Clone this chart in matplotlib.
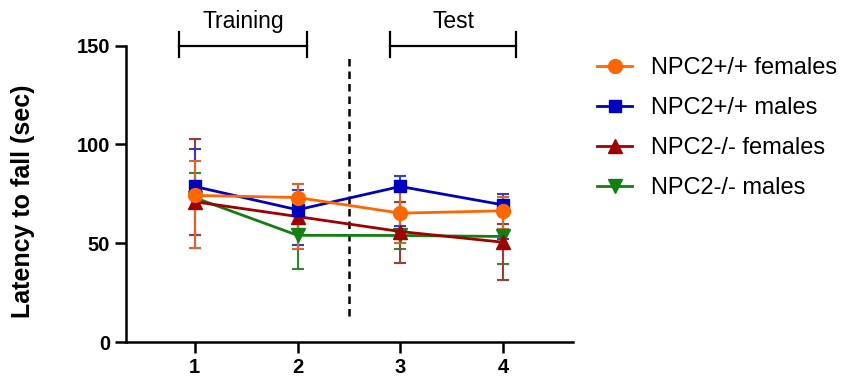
import numpy as np
import matplotlib
matplotlib.use("Agg")
import matplotlib.pyplot as plt

plt.rcParams['font.family'] = ['Liberation Sans', 'DejaVu Sans']

days = [1, 2, 3, 4]
labels = ['NPC2+/+ females', 'NPC2+/+ males', 'NPC2-/- females', 'NPC2-/- males']

# mean, lower and upper end of error bar
wt_f = [74.2, 73.1, 65.2, 66.4]
wt_f_lo = [47.5, 47.0, 50.3, 57.1]
wt_f_hi = [91.4, 80.0, 78.7, 73.2]

wt_m = [78.7, 66.9, 78.7, 69.4]
wt_m_lo = [47.5, 49.0, 58.8, 52.2]
wt_m_hi = [97.8, 76.7, 83.8, 74.9]

ko_f = [71.0, 63.5, 55.9, 50.5]
ko_f_lo = [54.2, 47.0, 39.9, 31.4]
ko_f_hi = [102.7, 80.0, 71.0, 59.6]

ko_m = [73.0, 54.0, 53.9, 53.4]
ko_m_lo = [54.2, 36.8, 47.3, 39.4]
ko_m_hi = [85.3, 70.0, 70.8, 67.0]

series = [
    (wt_f, wt_f_lo, wt_f_hi, '#FF6600', '#D8682A', 'o', 10),
    (wt_m, wt_m_lo, wt_m_hi, '#0000C0', '#3A3AC8', 's', 9),
    (ko_f, ko_f_lo, ko_f_hi, '#A00000', '#A33A3A', '^', 9.5),
    (ko_m, ko_m_lo, ko_m_hi, '#118011', '#2E8B2E', 'v', 9.5),
]

fig = plt.figure(figsize=(8.45, 3.8), dpi=100)
ax = fig.add_axes([0.149, 0.10, 0.529, 0.78])

handles = []
# draw in reverse so the first group ends up on top
for i, (m, lo, hi, col, ecol, mk, ms) in reversed(list(enumerate(series))):
    m = np.array(m)
    yerr = [m - np.array(lo), np.array(hi) - m]
    ax.errorbar(days, m, yerr=yerr, fmt='none', ecolor=ecol, elinewidth=1.5,
                capsize=4.5, capthick=1.5, zorder=2 + (3 - i) * 0.1)
    h, = ax.plot(days, m, color=col, marker=mk, markersize=ms, lw=2.0,
                 label=labels[i], zorder=4 + (3 - i))
    handles.append(h)
handles = handles[::-1]

ax.set_xlim(0.33, 4.68)
ax.set_ylim(0, 150)
ax.set_xticks(days)
ax.set_yticks([0, 50, 100, 150])
for s in ['top', 'right']:
    ax.spines[s].set_visible(False)
for s in ['left', 'bottom']:
    ax.spines[s].set_linewidth(1.8)
ax.tick_params(axis='both', width=1.8, length=8, labelsize=14.5)
for t in ax.get_xticklabels() + ax.get_yticklabels():
    t.set_fontweight('bold')
ax.set_ylabel('Latency to fall (sec)', fontsize=18, fontweight='bold', labelpad=30)
ax.yaxis.label.set_y(0.475)

# dashed separator between training and test
ax.plot([2.5, 2.5], [13, 144.5], color='black', lw=1.8, ls=(0, (3, 2)), clip_on=False)

# brackets
for x0, x1, txt in [(0.85, 2.09, 'Training'), (2.9, 4.13, 'Test')]:
    ax.plot([x0, x1], [150, 150], color='black', lw=1.6, clip_on=False)
    ax.plot([x0, x0], [144, 157], color='black', lw=1.6, clip_on=False)
    ax.plot([x1, x1], [144, 157], color='black', lw=1.6, clip_on=False)
    ax.text((x0 + x1) / 2, 156.5, txt, ha='center', va='bottom', fontsize=16.5)

fig.legend(handles=handles, loc='upper left', bbox_to_anchor=(0.7065, 0.849),
           frameon=False, fontsize=17, handlelength=1.5, handletextpad=0.8,
           labelspacing=0.76, borderpad=0, borderaxespad=0)

fig.savefig('out.png', dpi=100)
